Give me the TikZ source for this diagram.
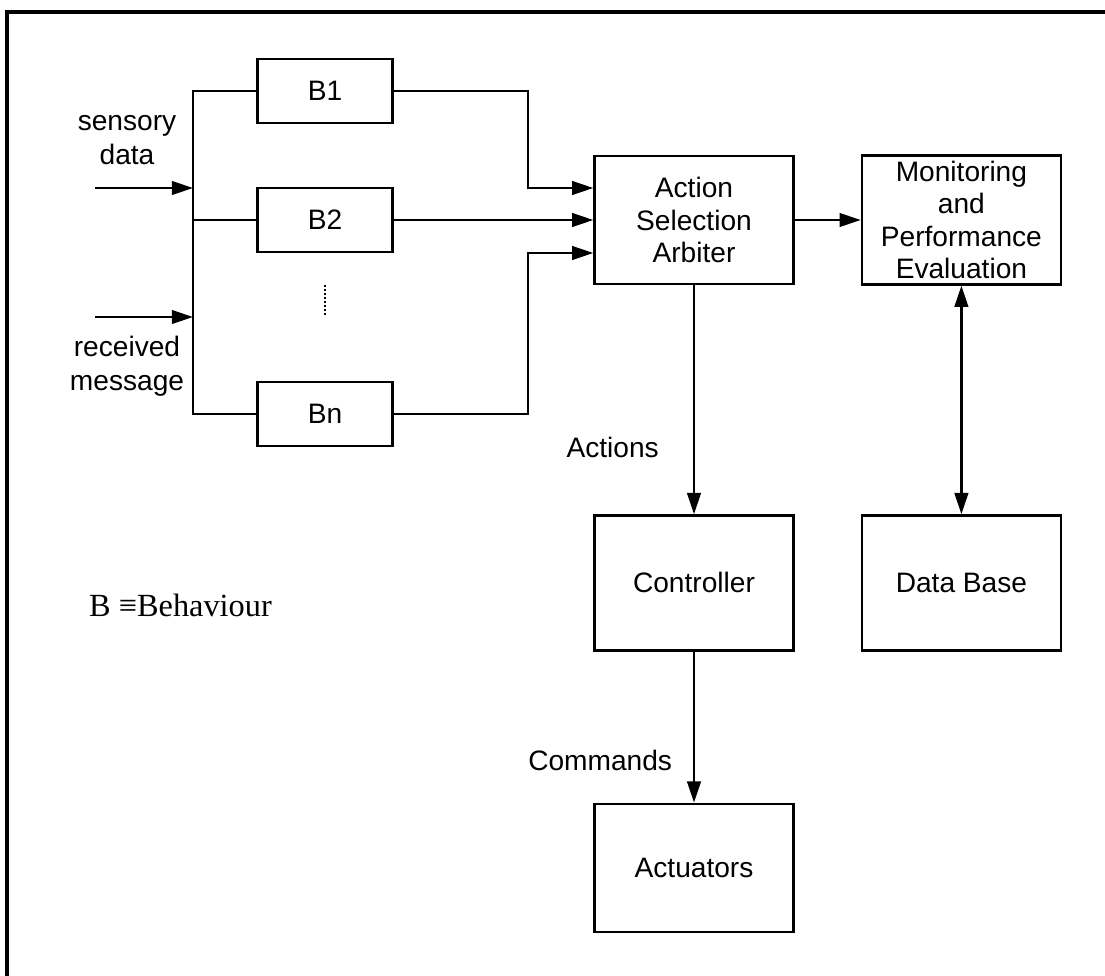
\documentclass[tikz,border=0pt]{standalone}
\usepackage{fontspec}
\setmainfont{Liberation Sans}
\newfontfamily\timesfont{Liberation Serif}
\usetikzlibrary{arrows.meta,positioning}

\begin{document}
\begin{tikzpicture}[
  font=\fontsize{20}{23}\selectfont,
  line width=1.7pt,
  node distance=5.725cm and 1.65cm,
  box/.style={draw, align=center, inner sep=1pt, minimum width=4.975cm,
    minimum height=3.2cm},
  beh/.style={box, minimum width=3.375cm, minimum height=1.6cm},
  lbl/.style={align=center, inner sep=0pt, font=\fontsize{20}{24}\selectfont},
  arr/.style={-{Triangle[length=5.3mm,width=3.4mm]}},
  darr/.style={{Triangle[length=5.3mm,width=3.4mm]}-{Triangle[length=5.3mm,width=3.4mm]}},
  dots/.style={line width=1pt, dash pattern=on 1.6pt off 1.2pt},
]
\useasboundingbox (0,0) rectangle (27.625,-24.4);
% outer frame, only top and left edges
\draw[line width=2.2pt] (27.625,-0.3) -- (0.175,-0.3) -- (0.175,-24.4);

% behaviours
\node[beh] (b1) at (8.125,-2.275) {B1};
\node[beh] (b2) at (8.125,-5.5) {B2};
\node[beh] (bn) at (8.125,-10.35) {Bn};
\draw[dots] ([yshift=-8mm]b2.south) -- ([yshift=-15.5mm]b2.south);

% input bus
\coordinate (bustop) at (4.825,-2.275);
\coordinate (busbot) at (4.825,-10.35);
\draw (b1.west) -- (bustop) -- (busbot) -- (bn.west);
\draw (b2.west) -- (b2.west -| bustop);
\coordinate (sens) at (2.375,-4.7);
\coordinate (recv) at (2.375,-7.925);
\draw[arr] (sens) -- (sens -| bustop);
\draw[arr] (recv) -- (recv -| bustop);
\node[lbl] (senslbl) at (3.175,-3.5) {sensory\\data};
\node[lbl] (recvlbl) at (3.175,-9.15) {received\\message};

% arbiter and the rest
\node[box] (asa) at (17.35,-5.5) {Action\\Selection\\Arbiter};
\node[box, right=of asa, inner sep=0pt, minimum height=3.225cm] (mon)
  {Monitoring\\and\\Performance\\Evaluation};
\node[box, below=of asa, minimum height=3.375cm] (ctrl) {Controller};
\node[box, minimum height=3.375cm] (db) at (ctrl -| mon) {Data Base};
\node[box, below=3.775cm of ctrl] (act) {Actuators};

\coordinate (jn) at (13.2,-5.5);
\draw[arr] (b1.east) -| ([yshift=8mm]asa.west -| jn) -- ([yshift=8mm]asa.west);
\draw[arr] (b2.east) -- (asa.west);
\draw[arr] (bn.east) -| ([yshift=-8.25mm]asa.west -| jn) -- ([yshift=-8.25mm]asa.west);

\draw[arr] (asa) -- (mon);
\draw[arr] (asa) -- (ctrl) node[lbl, pos=0.707, left=8.5mm] {Actions};
\draw[arr] (ctrl) -- (act) node[lbl, pos=0.722, left=5.2mm] {Commands};
\draw[darr] (mon) -- (db);

\node[anchor=base west, inner sep=0pt, font=\timesfont\fontsize{23}{27}\selectfont]
  (key) at (2.2,-15.42) {B ≡Behaviour};
\end{tikzpicture}
\end{document}
